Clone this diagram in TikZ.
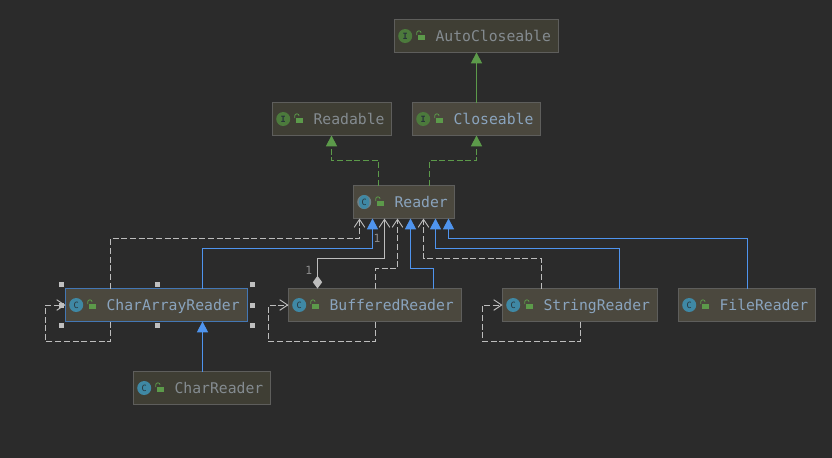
\documentclass[tikz,border=0pt]{standalone}
\usepackage{fontspec}
\setmonofont{DejaVu Sans Mono}
\usetikzlibrary{
    arrows.meta,  % For arrow tips
    calc,         % For coordinate calculations
    positioning   % For placing the icons and names inside a box
}

\definecolor{canvasgray}{HTML}{2B2B2B}
\definecolor{boxfill}{HTML}{4B483E}
\definecolor{boxfilldim}{HTML}{3F3E34}
\definecolor{boxline}{HTML}{5E5E5C}
\definecolor{namecolor}{HTML}{8AA4BE}
\definecolor{namedim}{HTML}{848B90}
\definecolor{greenline}{HTML}{5C9A4A}
\definecolor{blueline}{HTML}{4F94EE}
\definecolor{selectline}{HTML}{4477B4}
\definecolor{grayline}{HTML}{BDBDBD}
\definecolor{icongreen}{HTML}{4C7A3C}
\definecolor{iconteal}{HTML}{3F88A4}
\definecolor{iconside}{HTML}{6F8288}
\definecolor{iconletter}{HTML}{28343A}

% One class box: x, y of the top left corner, width, box style, icon style, letter, name
\newcommand{\umlclass}[7]{
    \node[classbox, #4, minimum width={#3*0.75bp}, anchor=north west] (#7) at (#1,#2) {};
    \node[#5, right=2.6bp of #7.west] (#7Icon) {#6};
    \fill[lockgreen] ([shift={(23.3,-0.7)}]#7.west) rectangle ++(6.7,5);
    \draw[lockgreen, line width=0.6bp] ([shift={(22.2,-1)}]#7.west) -- ++(0,-2) arc[start angle=180, end angle=360, radius=2.2];
    \node[classname, #4, right=30.8bp of #7.west, fill=none, draw=none] (#7Name) {#7};
}

\begin{document}
\begin{tikzpicture}[
    x=0.75bp, y=-0.75bp,
    % Boxes and their texts
    classbox/.style={draw=boxline, line width=0.75bp, fill=boxfill, minimum height=24.75bp, inner sep=0pt, outer sep=0pt},
    dimbox/.style={fill=boxfilldim, text=namedim},
    selectedbox/.style={draw=selectline},
    classname/.style={font=\ttfamily\fontsize{11.1}{12}\selectfont, inner sep=0pt, outer sep=0pt, text height=8.1pt, text depth=0.5pt, text=namecolor},
    % Icons
    iconbase/.style={circle, minimum size=10.5bp, inner sep=0pt, font=\ttfamily\fontsize{6.5}{7}\selectfont, text=iconletter},
    ifaceicon/.style={iconbase, fill=icongreen, font=\ttfamily\bfseries\fontsize{6.5}{7}\selectfont},
    classicon/.style={iconbase, fill=iconteal},
    abstracticon/.style={iconbase, fill=iconside,
        path picture={\fill[iconteal] (path picture bounding box.center) ellipse (3.9bp and 5.25bp);}},
    lockgreen/.style={color=greenline},
    % Connectors
    greentip/.style={-{Triangle[length=8.2bp, width=8.4bp]}, greenline, line width=0.75bp},
    greendash/.style={greentip, dash pattern=on 4.5bp off 2bp},
    bluetip/.style={-{Triangle[length=8.2bp, width=8.4bp]}, blueline, line width=0.75bp},
    depend/.style={-{Straight Barb[length=6bp, width=8bp, line width=0.7bp]}, grayline, line width=0.75bp, dash pattern=on 4.5bp off 2bp},
    aggregate/.style={{Diamond[fill=grayline, length=9.5bp, width=7bp]}-{Straight Barb[length=6bp, width=8bp, line width=0.7bp]}, grayline, line width=0.75bp},
    countlabel/.style={font=\ttfamily\fontsize{8.5}{9}\selectfont, text=gray!90!white, inner sep=0pt},
    handle/.style={fill=gray!50!white}
]

    % Background
    \useasboundingbox[fill=canvasgray] (0,0) rectangle (832,458);

    % Interfaces
    \umlclass{394.5}{19.5}{164}{dimbox}{ifaceicon}{I}{AutoCloseable}
    \umlclass{272.5}{102.5}{119}{dimbox}{ifaceicon}{I}{Readable}
    \umlclass{412.5}{102.5}{128}{}{ifaceicon}{I}{Closeable}

    % Classes
    \umlclass{353.5}{185.5}{101}{}{abstracticon}{C}{Reader}
    \umlclass{65.5}{288.5}{182}{selectedbox}{classicon}{C}{CharArrayReader}
    \umlclass{288.5}{288.5}{173}{}{classicon}{C}{BufferedReader}
    \umlclass{502.5}{288.5}{155}{}{classicon}{C}{StringReader}
    \umlclass{678.5}{288.5}{137}{}{classicon}{C}{FileReader}
    \umlclass{133.5}{371.5}{137}{dimbox}{classicon}{C}{CharReader}

    % Interface inheritance
    \draw[greentip] (476.5,0 |- Closeable.north) -- (476.5,0 |- AutoCloseable.south);
    \draw[greendash] (378.5,0 |- Reader.north) |- (331.5,160.5) -- (331.5,0 |- Readable.south);
    \draw[greendash] (429.5,0 |- Reader.north) |- (476.5,160.5) -- (476.5,0 |- Closeable.south);

    % Everything going up into Reader, left to right along its lower edge
    \draw[depend] (110.5,0 |- CharArrayReader.north) |- (359.5,238.5) -- (359.5,0 |- Reader.south);
    \draw[bluetip] (202.5,0 |- CharArrayReader.north) |- (372.5,248.5) -- (372.5,0 |- Reader.south);
    \draw[aggregate] (317.5,0 |- BufferedReader.north) |- (384.5,258.5) -- (384.5,0 |- Reader.south);
    \draw[depend] (375.5,0 |- BufferedReader.north) |- (397.5,268.5) -- (397.5,0 |- Reader.south);
    \draw[bluetip] (433.5,0 |- BufferedReader.north) |- (410.5,268.5) -- (410.5,0 |- Reader.south);
    \draw[depend] (541.5,0 |- StringReader.north) |- (423.5,258.5) -- (423.5,0 |- Reader.south);
    \draw[bluetip] (619.5,0 |- StringReader.north) |- (435.5,248.5) -- (435.5,0 |- Reader.south);
    \draw[bluetip] (747.5,0 |- FileReader.north) |- (448.5,238.5) -- (448.5,0 |- Reader.south);

    % CharReader extends CharArrayReader
    \draw[bluetip] (202.5,0 |- CharReader.north) -- (202.5,0 |- CharArrayReader.south);

    % Loops back into the same class
    \draw[depend] (110.5,0 |- CharArrayReader.south) |- (45.5,341.5) |- (CharArrayReader.west);
    \draw[depend] (375.5,0 |- BufferedReader.south) |- (268.5,341.5) |- (BufferedReader.west);
    \draw[depend] (580.5,0 |- StringReader.south) |- (482.5,341.5) |- (StringReader.west);

    % Multiplicities
    \node[countlabel] (countA) at (377,238.7) {1};
    \node[countlabel] (countB) at (308.7,270) {1};

    % Selection handles round CharArrayReader
    \foreach \hx/\hy in {61.5/284.5, 157/284.5, 252.5/284.5, 61.5/305, 252.5/305, 61.5/325.5, 157/325.5, 252.5/325.5} {
        \fill[handle] (\hx-2.5,\hy-2.5) rectangle +(5,5);
    }

\end{tikzpicture}
\end{document}
